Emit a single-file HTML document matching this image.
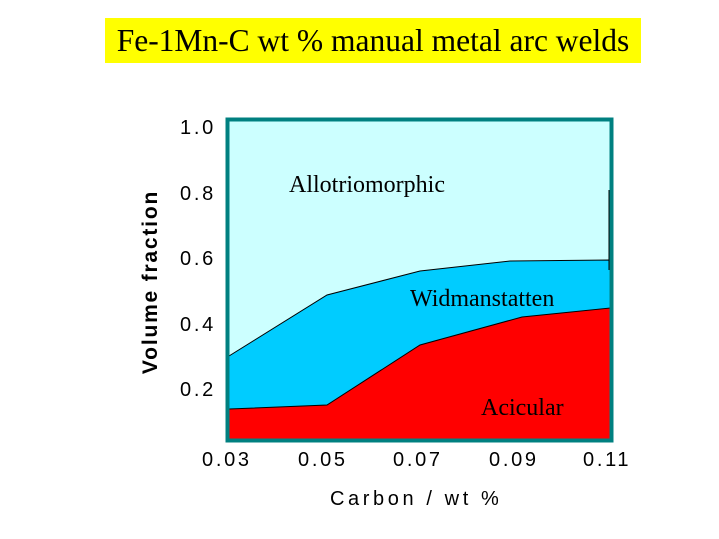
<!DOCTYPE html>
<html><head><style>
body{margin:0;width:719px;height:539px;background:#fff;overflow:hidden;position:relative;font-family:"Liberation Sans",sans-serif}
.t{position:absolute;left:105px;top:18px;width:536px;height:45px;background:#ffff00;font-family:"Liberation Serif",serif;font-size:31.5px;line-height:45px;text-align:center;color:#000;white-space:nowrap}
</style></head><body>
<div class="t">Fe-1Mn-C wt % manual metal arc welds</div>
<svg width="719" height="539" style="position:absolute;left:0;top:0">
<rect x="229" y="121" width="381" height="318" fill="#ccffff"/>
<polygon points="229,356 327,295 420,271 510,261 610,260 610,439 229,439" fill="#00ccff" stroke="#000" stroke-width="1"/>
<polygon points="229,409 327,405 420,345 522,317 610,308 610,439 229,439" fill="#ff0000" stroke="#000" stroke-width="1"/>
<line x1="609" y1="190" x2="609" y2="270" stroke="#000" stroke-width="1"/>
<rect x="227.5" y="119.5" width="384" height="321" fill="none" stroke="#008080" stroke-width="4"/>
<g font-family="Liberation Serif,serif" font-size="24" fill="#000">
<text x="289" y="192">Allotriomorphic</text>
<text x="410" y="306">Widmanstatten</text>
<text x="481" y="415">Acicular</text>
</g>
<g font-family="Liberation Sans,sans-serif" font-size="20" fill="#000" letter-spacing="2.7">
<text x="180" y="134">1.0</text>
<text x="180" y="200">0.8</text>
<text x="180" y="265">0.6</text>
<text x="180" y="331">0.4</text>
<text x="180" y="396">0.2</text>
<text x="202" y="466">0.03</text>
<text x="298" y="466">0.05</text>
<text x="393" y="466">0.07</text>
<text x="489" y="466">0.09</text>
<text x="583" y="466">0.11</text>
<text x="330" y="505" letter-spacing="3.6">Carbon / wt %</text>
</g>
<text transform="translate(157,282) rotate(-90)" font-family="Liberation Sans,sans-serif" font-size="21" font-weight="bold" letter-spacing="1.8" text-anchor="middle">Volume fraction</text>
</svg>
</body></html>
